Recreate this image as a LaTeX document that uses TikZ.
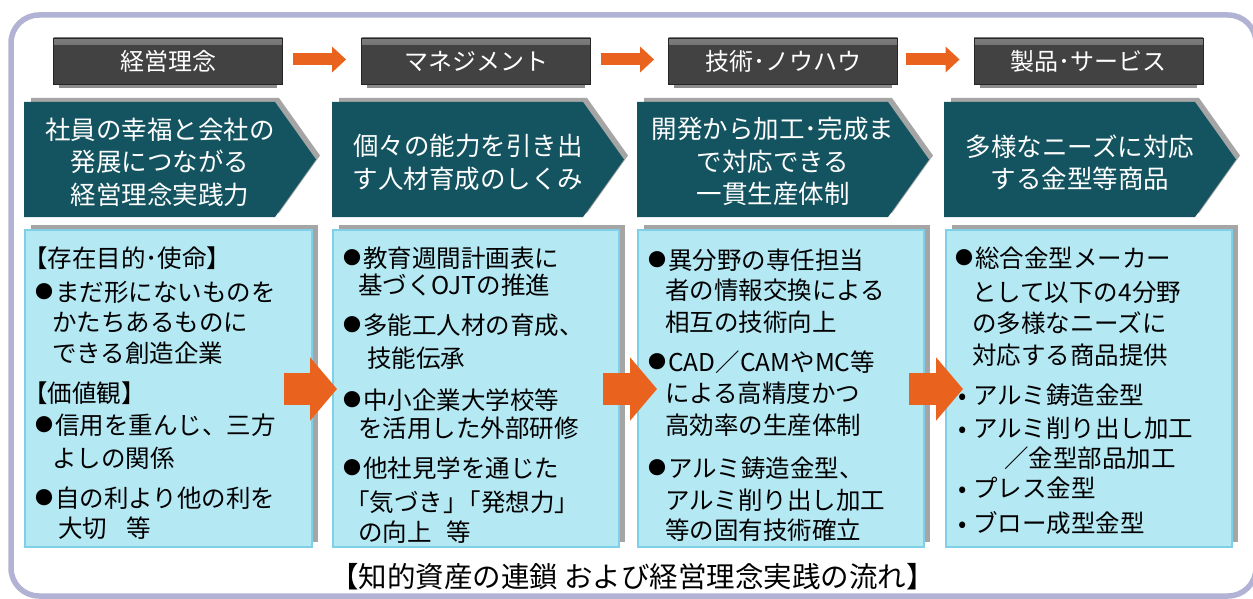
\documentclass[tikz,border=0pt]{standalone}
\usepackage{fontspec}
\setmainfont{Noto Sans CJK JP}
\usetikzlibrary{calc,arrows.meta}
\definecolor{frameC}{RGB}{178,178,212}
\definecolor{hdrC}{RGB}{66,66,66}
\definecolor{hdrTop}{RGB}{125,125,125}
\definecolor{hdrEdge}{RGB}{38,38,38}
\definecolor{hdrSh}{RGB}{140,140,140}
\definecolor{tealC}{RGB}{19,84,96}
\definecolor{shC}{RGB}{165,165,165}
\definecolor{boxF}{RGB}{180,232,243}
\definecolor{boxB}{RGB}{125,208,232}
\definecolor{orC}{RGB}{234,99,30}
\newcommand{\bk}{\makebox[20pt][l]{\raisebox{2.5pt}{\fontsize{18}{18}\selectfont ●}}}
\newcommand{\smb}{\makebox[15pt][l]{•}}
\tikzset{
  hdr/.style={fill=hdrC, draw=hdrEdge, line width=0.8pt, minimum width=229pt, minimum height=46pt,
    inner sep=0pt, text=white, font=\fontsize{24}{24}\selectfont,
    path picture={\shade[top color=hdrTop, bottom color=hdrC]
      (path picture bounding box.north west) rectangle ([yshift=-7pt]path picture bounding box.north east);}},
  hdrshadow/.style={fill=hdrSh},
  teal/.style={fill=tealC},
  tealshadow/.style={fill=shC},
  tealtext/.style={text=white, align=center, inner sep=0pt, font=\fontsize{25.5}{32.5}\selectfont},
  bbox/.style={fill=boxF, draw=boxB, line width=2pt, minimum height=317pt, inner sep=0pt},
  boxshadow/.style={fill=shC},
  btxt/.style={anchor=base west, inner sep=0pt, font=\fontsize{24.5}{24.5}\selectfont},
  smallarrow/.style={orC, line width=12pt, -{Triangle[length=14pt, width=25pt]}},
  bigarrow/.style={orC, line width=32pt, -{Triangle[length=27pt, width=62pt]}},
  caption/.style={anchor=base, inner sep=0pt, font=\fontsize{28.5}{28.5}\selectfont}
}
\begin{document}
\begin{tikzpicture}[x=1pt,y=-1pt]
\useasboundingbox (0,0) rectangle (1253,599);
\clip (0,0) rectangle (1253,599);
\fill[white] (0,0) rectangle (1253,599);
% outer frame
\draw[frameC, line width=5.5pt, rounded corners=28pt] (11,15) rectangle (1256,596);

% header boxes
\node[hdr] (h1) at (168,61) {経営理念};
\node[hdr] (h2) at (476,61) {マネジメント};
\node[hdr] (h3) at (783,61) {技術･ノウハウ};
\node[hdr] (h4) at (1088.5,61) {製品･サービス};
\foreach \h in {h1,h2,h3,h4}{
  \fill[hdrshadow] ($(\h.south west)+(6,0.5)$) rectangle ($(\h.south east)+(-6,4)$);
}
% header arrows
\draw[smallarrow] ($(h1.east)+(10,-1.5)$) -- ($(h2.west)+(-15,-1.5)$);
\draw[smallarrow] ($(h2.east)+(10,-1.5)$) -- ($(h3.west)+(-14,-1.5)$);
\draw[smallarrow] ($(h3.east)+(8,-1.5)$) -- ($(h4.west)+(-14,-1.5)$);

% teal pentagons
\foreach \L/\k in {24/1,332/2,637/3,944/4}{
  \fill[tealshadow] (\L+7,98) -- (\L+255,98) -- (\L+296,155.5) -- (\L+255,213) -- (\L+7,213) -- cycle;
  \fill[teal] (\L,102) -- (\L+251,102) -- (\L+292,159.5) -- (\L+251,217) -- (\L,217) -- cycle;
}
\node[tealtext] (t1) at (160,162) {社員の幸福と会社の\\発展につながる\\経営理念実践力};
\node[tealtext] (t2) at (468,162.5) {個々の能力を引き出\\す人材育成のしくみ};
\node[tealtext] (t3) at (773,161.5) {開発から加工･完成ま\\で対応できる\\一貫生産体制};
\node[tealtext] (t4) at (1080,162.5) {多様なニーズに対応\\する金型等商品};

% blue boxes
\foreach \a/\b in {24/313,332/620,637/925,945/1233}{
  \fill[boxshadow] (\a+7,225) rectangle (\b+5,542);
}
\node[bbox, minimum width=287pt] (b1) at (168.5,388.5) {};
\node[bbox, minimum width=286pt] (b2) at (476,388.5) {};
\node[bbox, minimum width=286pt] (b3) at (781,388.5) {};
\node[bbox, minimum width=286pt] (b4) at (1089,388.5) {};

% box texts (x / visual centre y / text)
\foreach \xx/\yy/\q [count=\k] in {
  23/258/{【存在目的･使命】},
  35/292/{\bk まだ形にないものを},
  52/322/{かたちあるものに},
  52/353/{できる創造企業},
  23/393/{【価値観】},
  35/425/{\bk 信用を重んじ、三方},
  52/458/{よしの関係},
  35/498/{\bk 自の利より他の利を},
  58/528/{大切\hspace{0.8em}等}}{
  \node[btxt] (a1l\k) at (\xx,\yy+9) {\q};
}
\foreach \xx/\yy/\q [count=\k] in {
  343/258/{\bk 教育週間計画表に},
  358/285/{基づくOJTの推進},
  343/325/{\bk 多能工人材の育成、},
  367/358/{技能伝承},
  343/400/{\bk 中小企業大学校等},
  358/428/{を活用した外部研修},
  343/468/{\bk 他社見学を通じた},
  345/502/{「気づき」\hspace{-0.45em}「発想力」},
  358/532/{の向上\hspace{0.6em}等}}{
  \node[btxt] (a2l\k) at (\xx,\yy+9) {\q};
}
\foreach \xx/\yy/\q [count=\k] in {
  648/260/{\bk 異分野の専任担当},
  665/290/{者の情報交換による},
  665/322/{相互の技術向上},
  648/362/{\bk CAD／CAMやMC等},
  665/393/{による高精度かつ},
  665/425/{高効率の生産体制},
  648/468/{\bk アルミ鋳造金型、},
  665/500/{アルミ削り出し加工},
  665/530/{等の固有技術確立}}{
  \node[btxt] (a3l\k) at (\xx,\yy+9) {\q};
}
\foreach \xx/\yy/\q [count=\k] in {
  955/258/{\bk 総合金型メーカー},
  972/292/{として以下の4分野},
  972/323/{の多様なニーズに},
  972/355/{対応する商品提供},
  958/395/{\smb アルミ鋳造金型},
  958/428/{\smb アルミ削り出し加工},
  1004/458/{／金型部品加工},
  958/488/{\smb プレス金型},
  958/523/{\smb ブロー成型金型}}{
  \node[btxt] (a4l\k) at (\xx,\yy+9) {\q};
}

% big arrows between boxes
\draw[bigarrow] ($(b1.east)+(-29,0.5)$) -- ($(b2.west)+(5,0.5)$);
\draw[bigarrow] ($(b2.east)+(-17,0.5)$) -- ($(b3.west)+(20,0.5)$);
\draw[bigarrow] ($(b3.east)+(-16,0.5)$) -- ($(b4.west)+(18,0.5)$);

% caption
\node[caption] (cap) at (632.5,587.5) {【知的資産の連鎖 および経営理念実践の流れ】};
\end{tikzpicture}
\end{document}
